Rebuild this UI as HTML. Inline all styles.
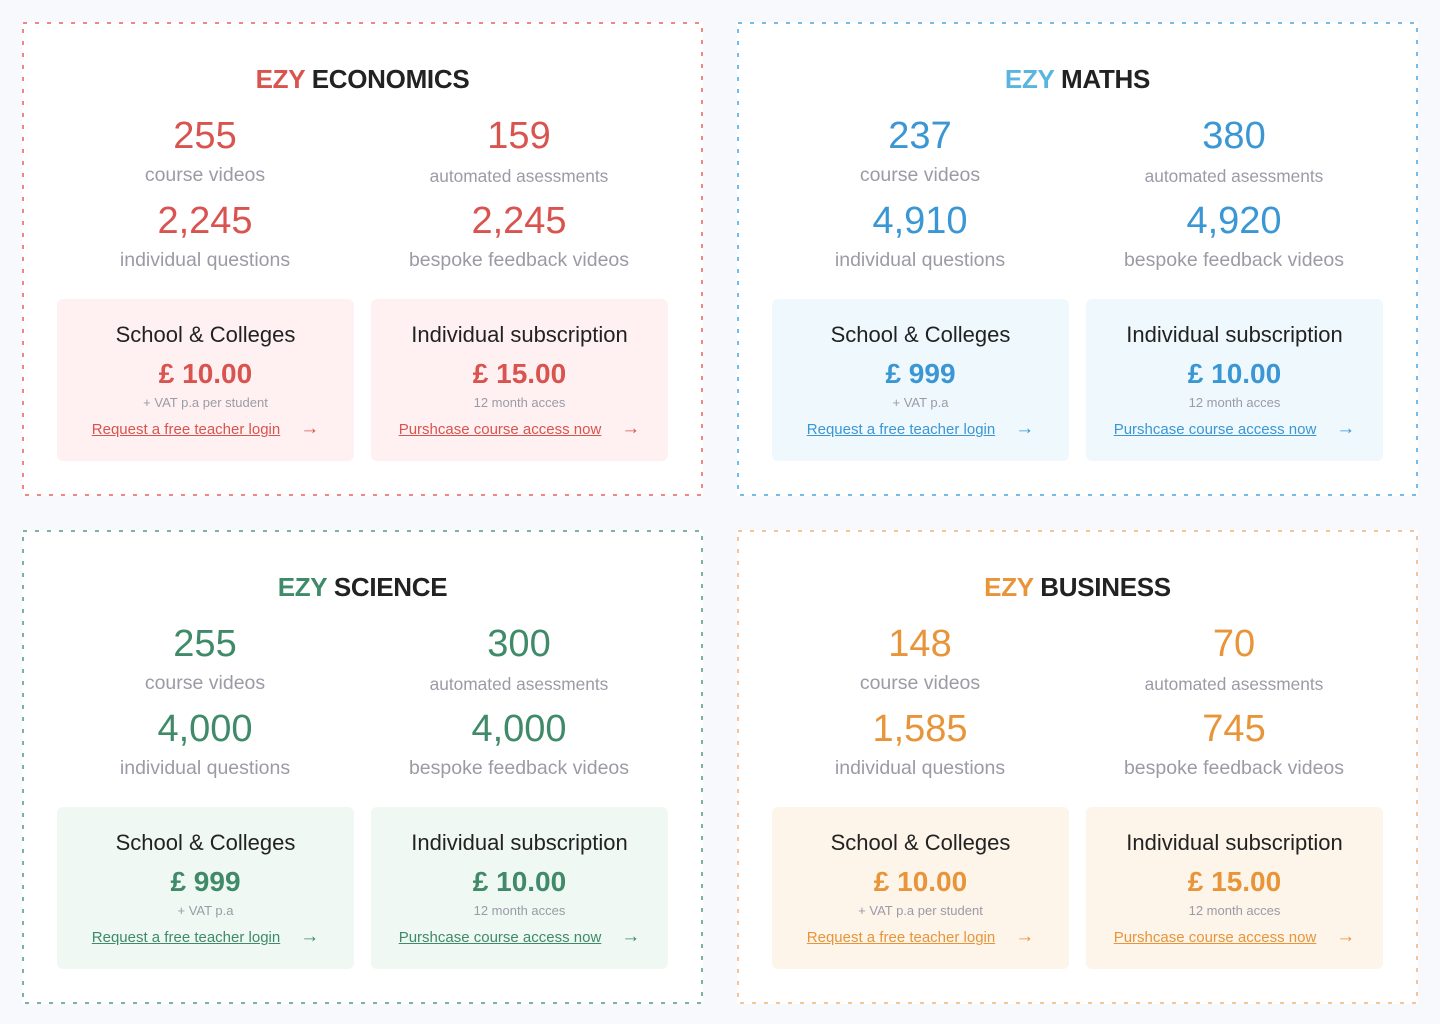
<!DOCTYPE html>
<html><head><meta charset="utf-8"><style>
*{margin:0;padding:0;box-sizing:border-box}
body{width:1440px;height:1024px;background:#f7f9fd;font-family:"Liberation Sans",sans-serif;position:relative;overflow:hidden}
.panel{position:absolute;width:681px;height:474px;background:#fff}
.panel svg.bd{position:absolute;left:0;top:0}
.t{position:absolute;left:0;width:100%;text-align:center;white-space:nowrap}
.title{top:41px;font-size:26px;line-height:32px;color:#222;font-weight:bold;letter-spacing:-0.3px}
.col{position:absolute;width:300px}
.num{font-size:38px;line-height:44px}
.lab{font-size:19.5px;line-height:22px;color:#9b9ba6}
.lab.s{font-size:17.3px}
.card{position:absolute;top:277px;width:297px;height:162px;border-radius:6px}
.ct{top:23px;font-size:22px;line-height:26px;color:#222}
.cp{top:59px;font-size:28px;line-height:32px;font-weight:bold}
.cs{top:96px;font-size:13px;line-height:16px;color:#9b9ba6}
.cl{top:121px;font-size:15px;line-height:20px}
.cl a{text-decoration:underline;color:inherit}
.cl span{margin-left:20px;text-decoration:none;font-size:19px;display:inline-block;vertical-align:top;line-height:18px}
</style></head><body>

<!-- ECONOMICS -->
<div class="panel" style="left:22px;top:22px">
<svg class="bd" width="681" height="474"><rect x="1" y="1" width="679" height="472" fill="none" stroke="#e8605a" stroke-width="1.5" stroke-dasharray="4 8"/></svg>
<div class="t title"><span style="color:#d9534f">EZY</span> ECONOMICS</div>
<div class="col" style="left:33px">
<div class="t num" style="top:92px;color:#d9534f">255</div><div class="t lab" style="top:142px">course videos</div>
<div class="t num" style="top:177px;color:#d9534f">2,245</div><div class="t lab" style="top:227px">individual questions</div></div>
<div class="col" style="left:347px">
<div class="t num" style="top:92px;color:#d9534f">159</div><div class="t lab s" style="top:143px">automated asessments</div>
<div class="t num" style="top:177px;color:#d9534f">2,245</div><div class="t lab" style="top:227px">bespoke feedback videos</div></div>
<div class="card" style="left:35px;background:#fff1f1">
<div class="t ct">School &amp; Colleges</div><div class="t cp" style="color:#d9534f">£ 10.00</div><div class="t cs">+ VAT p.a per student</div>
<div class="t cl" style="color:#d9534f"><a>Request a free teacher login</a><span>→</span></div></div>
<div class="card" style="left:349px;background:#fff1f1">
<div class="t ct">Individual subscription</div><div class="t cp" style="color:#d9534f">£ 15.00</div><div class="t cs">12 month acces</div>
<div class="t cl" style="color:#d9534f"><a>Purshcase course access now</a><span>→</span></div></div>
</div>

<!-- MATHS -->
<div class="panel" style="left:737px;top:22px">
<svg class="bd" width="681" height="474"><rect x="1" y="1" width="679" height="472" fill="none" stroke="#4aa5e0" stroke-width="1.5" stroke-dasharray="4 8"/></svg>
<div class="t title"><span style="color:#5ab4e0">EZY</span> MATHS</div>
<div class="col" style="left:33px">
<div class="t num" style="top:92px;color:#3a97d4">237</div><div class="t lab" style="top:142px">course videos</div>
<div class="t num" style="top:177px;color:#3a97d4">4,910</div><div class="t lab" style="top:227px">individual questions</div></div>
<div class="col" style="left:347px">
<div class="t num" style="top:92px;color:#3a97d4">380</div><div class="t lab s" style="top:143px">automated asessments</div>
<div class="t num" style="top:177px;color:#3a97d4">4,920</div><div class="t lab" style="top:227px">bespoke feedback videos</div></div>
<div class="card" style="left:35px;background:#eff8fd">
<div class="t ct">School &amp; Colleges</div><div class="t cp" style="color:#3a97d4">£ 999</div><div class="t cs">+ VAT p.a</div>
<div class="t cl" style="color:#3a97d4"><a>Request a free teacher login</a><span>→</span></div></div>
<div class="card" style="left:349px;background:#eff8fd">
<div class="t ct">Individual subscription</div><div class="t cp" style="color:#3a97d4">£ 10.00</div><div class="t cs">12 month acces</div>
<div class="t cl" style="color:#3a97d4"><a>Purshcase course access now</a><span>→</span></div></div>
</div>

<!-- SCIENCE -->
<div class="panel" style="left:22px;top:530px">
<svg class="bd" width="681" height="474"><rect x="1" y="1" width="679" height="472" fill="none" stroke="#4f9a86" stroke-width="1.5" stroke-dasharray="4 8"/></svg>
<div class="t title"><span style="color:#3f8a68">EZY</span> SCIENCE</div>
<div class="col" style="left:33px">
<div class="t num" style="top:92px;color:#3f8a68">255</div><div class="t lab" style="top:142px">course videos</div>
<div class="t num" style="top:177px;color:#3f8a68">4,000</div><div class="t lab" style="top:227px">individual questions</div></div>
<div class="col" style="left:347px">
<div class="t num" style="top:92px;color:#3f8a68">300</div><div class="t lab s" style="top:143px">automated asessments</div>
<div class="t num" style="top:177px;color:#3f8a68">4,000</div><div class="t lab" style="top:227px">bespoke feedback videos</div></div>
<div class="card" style="left:35px;background:#eff8f3">
<div class="t ct">School &amp; Colleges</div><div class="t cp" style="color:#3f8a68">£ 999</div><div class="t cs">+ VAT p.a</div>
<div class="t cl" style="color:#3f8a68"><a>Request a free teacher login</a><span>→</span></div></div>
<div class="card" style="left:349px;background:#eff8f3">
<div class="t ct">Individual subscription</div><div class="t cp" style="color:#3f8a68">£ 10.00</div><div class="t cs">12 month acces</div>
<div class="t cl" style="color:#3f8a68"><a>Purshcase course access now</a><span>→</span></div></div>
</div>

<!-- BUSINESS -->
<div class="panel" style="left:737px;top:530px">
<svg class="bd" width="681" height="474"><rect x="1" y="1" width="679" height="472" fill="none" stroke="#f0b07a" stroke-width="1.5" stroke-dasharray="4 8"/></svg>
<div class="t title"><span style="color:#e8953a">EZY</span> BUSINESS</div>
<div class="col" style="left:33px">
<div class="t num" style="top:92px;color:#e8953a">148</div><div class="t lab" style="top:142px">course videos</div>
<div class="t num" style="top:177px;color:#e8953a">1,585</div><div class="t lab" style="top:227px">individual questions</div></div>
<div class="col" style="left:347px">
<div class="t num" style="top:92px;color:#e8953a">70</div><div class="t lab s" style="top:143px">automated asessments</div>
<div class="t num" style="top:177px;color:#e8953a">745</div><div class="t lab" style="top:227px">bespoke feedback videos</div></div>
<div class="card" style="left:35px;background:#fdf4ea">
<div class="t ct">School &amp; Colleges</div><div class="t cp" style="color:#e8953a">£ 10.00</div><div class="t cs">+ VAT p.a per student</div>
<div class="t cl" style="color:#e8953a"><a>Request a free teacher login</a><span>→</span></div></div>
<div class="card" style="left:349px;background:#fdf4ea">
<div class="t ct">Individual subscription</div><div class="t cp" style="color:#e8953a">£ 15.00</div><div class="t cs">12 month acces</div>
<div class="t cl" style="color:#e8953a"><a>Purshcase course access now</a><span>→</span></div></div>
</div>

</body></html>
